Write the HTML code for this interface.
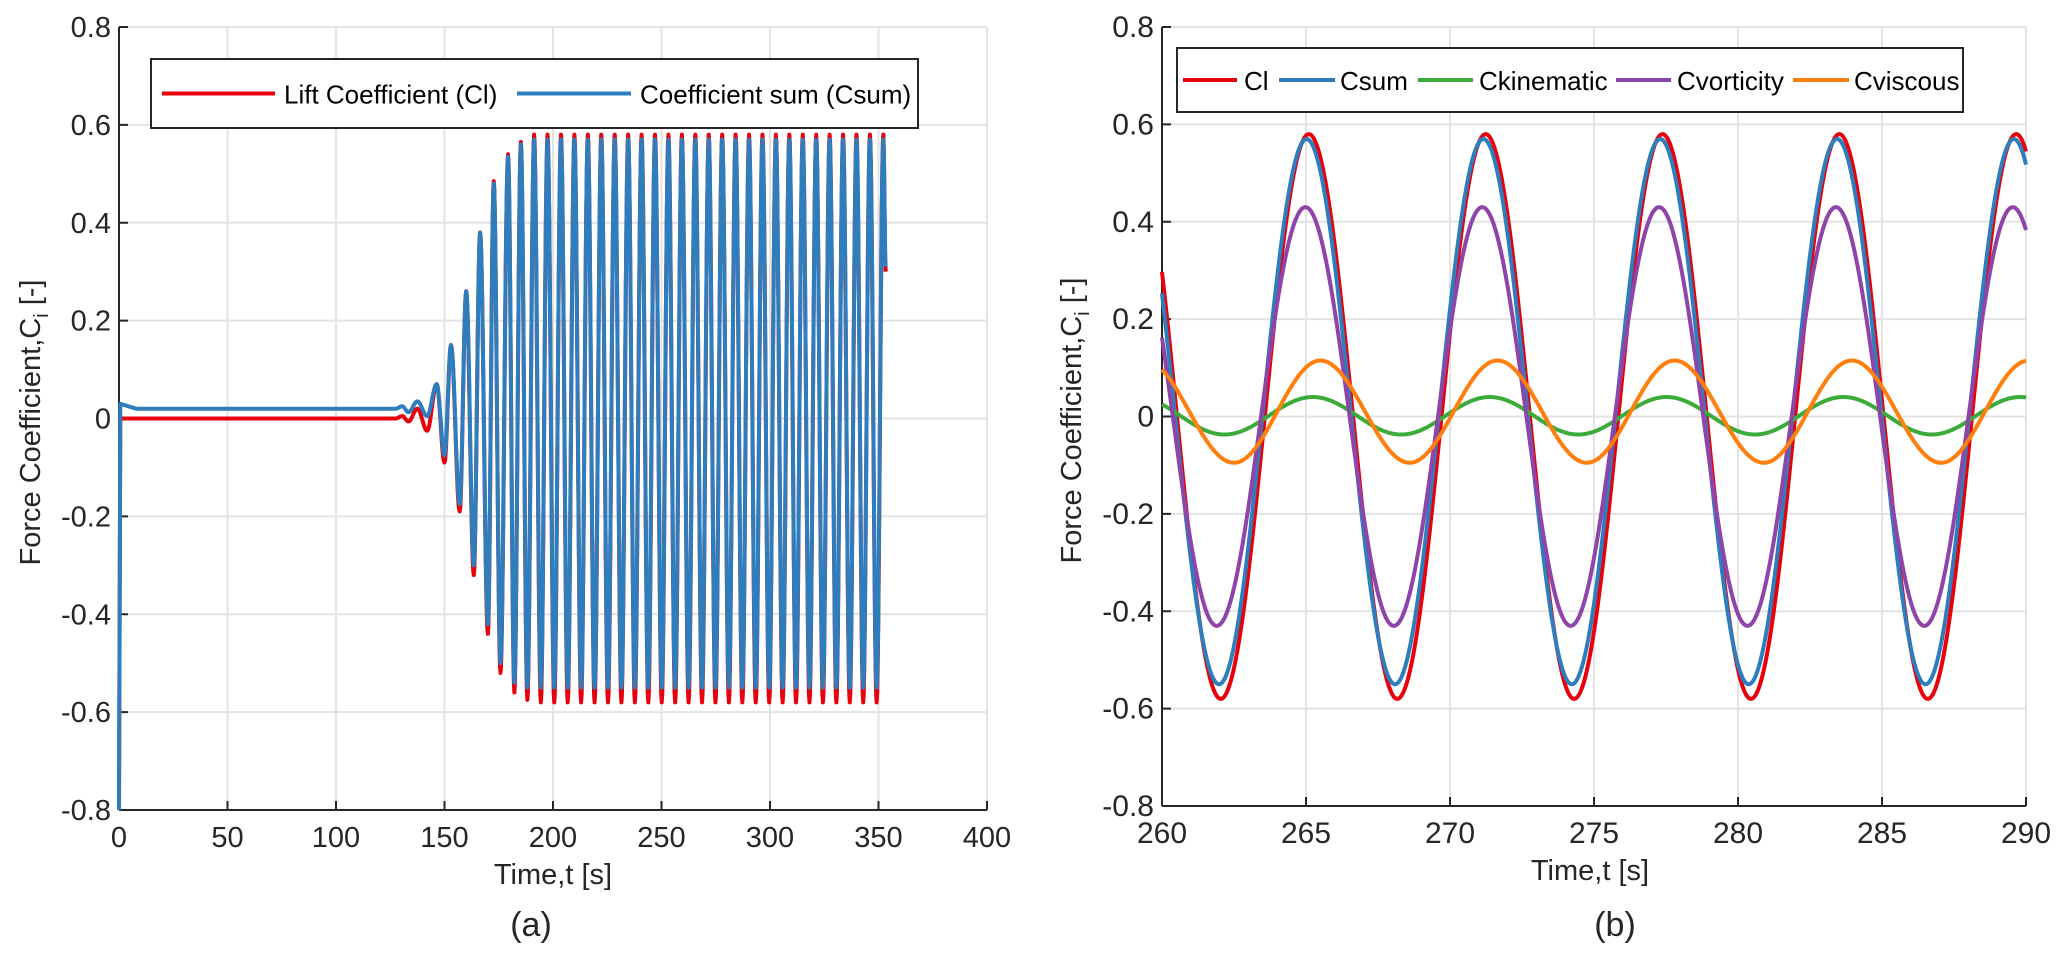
<!DOCTYPE html>
<html><head><meta charset="utf-8">
<style>
html,body{margin:0;padding:0;background:#fff;}
svg{display:block;font-family:"Liberation Sans",Arial,sans-serif;}
</style></head>
<body>
<svg id="fig" width="2067" height="962" viewBox="0 0 2067 962" xmlns="http://www.w3.org/2000/svg">
<g id="panelA"></g>
<g id="panelB"></g>
</svg>
<script>
// ---------- Panel (a) data ----------
const aXTicks = [0,50,100,150,200,250,300,350,400];
const aYTicks = [-0.8,-0.6,-0.4,-0.2,0,0.2,0.4,0.6,0.8];
const yTickLabels = ["-0.8","-0.6","-0.4","-0.2","0","0.2","0.4","0.6","0.8"];
const aGrowthT    = [0,   0.6,  8,    120,  127.5, 130.5, 133.4, 137.5, 142,   146.4, 150,   153,  157,   160,  163.5, 166.4, 170,   172.7, 175.8, 179.3, 182.2, 185.2, 188.2];
const aGrowthCl   = [-0.8,0,    0,    0,    0,     0.005,-0.006, 0.02, -0.025, 0.07, -0.09,  0.15,-0.19,  0.26,-0.32,  0.38, -0.44,  0.485,-0.52,  0.54, -0.56,  0.565,-0.575];
const aGrowthCsum = [-0.8,0.03, 0.02, 0.02, 0.02,  0.025, 0.013, 0.035, 0.005, 0.07, -0.075, 0.15,-0.175, 0.26,-0.30,  0.38, -0.42,  0.48, -0.50,  0.535,-0.54,  0.56, -0.55];
const aSteadyStart = 191.3;
const aSteadyPeriod = 6.19;
const aSteadyCycles = 26;
const aClPeak = 0.58, aClTrough = -0.58;
const aCsumPeak = 0.57, aCsumTrough = -0.55;
const aEndT = 353.3, aEndCl = 0.30, aEndCsum = 0.31;

// ---------- Panel (b) data ----------
const bXTicks = [260,265,270,275,280,285,290];
const bClT    = [259.0,262.04,265.1,268.17,271.24,274.31,277.38,280.45,283.52,286.59,289.66,292.7];
const bClV    = [0.58,-0.58,0.58,-0.58,0.58,-0.58,0.58,-0.58,0.58,-0.58,0.58,-0.58];
const bCsumT  = [258.9,261.98,265.02,268.09,271.16,274.23,277.3,280.37,283.44,286.51,289.58,292.6];
const bCsumV  = [0.57,-0.55,0.57,-0.55,0.57,-0.55,0.57,-0.55,0.57,-0.55,0.57,-0.55];
const bKinT   = [259.1,262.17,265.24,268.31,271.38,274.45,277.52,280.59,283.66,286.73,289.8,292.9];
const bKinV   = [0.04,-0.037,0.04,-0.037,0.04,-0.037,0.04,-0.037,0.04,-0.037,0.04,-0.037];
const bVorT   = [258.85,261.9,264.98,268.05,271.12,274.19,277.26,280.33,283.4,286.47,289.54,292.6];
const bVorV   = [0.43,-0.43,0.43,-0.43,0.43,-0.43,0.43,-0.43,0.43,-0.43,0.43,-0.43];
const bVisT   = [259.4,262.5,265.5,268.6,271.65,274.75,277.8,280.9,283.95,287.05,290.1];
const bVisV   = [0.115,-0.095,0.115,-0.095,0.115,-0.095,0.115,-0.095,0.115,-0.095,0.115];

const NS = "http://www.w3.org/2000/svg";
function mk(tag, attrs, parent){ const e=document.createElementNS(NS,tag); for(const k in attrs) e.setAttribute(k,attrs[k]); parent.appendChild(e); return e; }

function axes(g, X, Y, x0,x1,y0,y1, xTicks, xLabelsStr, xLabelCx, capLabel, capCx, ylabX, tfs){
  const gridG = mk('g',{},g);
  
  
  xTicks.forEach(v=>{ const l=mk('line',{x1:X(v),x2:X(v),y1:y0,y2:y1,stroke:'#e3e3e3','stroke-width':2},gridG);
      });
  aYTicks.forEach(v=>{ const l=mk('line',{x1:x0,x2:x1,y1:Y(v),y2:Y(v),stroke:'#e3e3e3','stroke-width':2},gridG);
      });
  const ax = mk('g',{stroke:'#262626','stroke-width':2},g);
   
  mk('line',{x1:x0,x2:x1,y1:y1,y2:y1},ax);
  mk('line',{x1:x0,x2:x0,y1:y0,y2:y1},ax);
  xTicks.forEach(v=>mk('line',{x1:X(v),x2:X(v),y1:y1,y2:y1-9},ax));
  aYTicks.forEach(v=>mk('line',{x1:x0,x2:x0+9,y1:Y(v),y2:Y(v)},ax));
  xTicks.forEach((v,i)=>{ const t=mk('text',{x:X(v),y:y1+37,'text-anchor':'middle','font-size':tfs,fill:'#262626'},g);
    t.textContent=String(v);   });
  aYTicks.forEach((v,i)=>{ const t=mk('text',{x:x0-8,y:Y(v)+10,'text-anchor':'end','font-size':tfs,fill:'#262626'},g);
    t.textContent=yTickLabels[i];   });
  const xl=mk('text',{x:xLabelCx,y:y1+74,'text-anchor':'middle','font-size':29,fill:'#262626'},g);
  xl.textContent=xLabelsStr;  
  const cy=(y0+y1)/2+4;
  const yl=mk('text',{x:0,y:0,'text-anchor':'middle','font-size':29,fill:'#262626',transform:`translate(${ylabX},${cy}) rotate(-90)`},g);
  yl.innerHTML='Force Coefficient,C<tspan font-size="20" dy="8">i</tspan><tspan dy="-8"> [-]</tspan>';
   
  const cap=mk('text',{x:capCx,y:936,'text-anchor':'middle','font-size':34,fill:'#262626'},g);
  cap.textContent=capLabel;  
}

function traceExtrema(T, V, X, Y, tMin, tMax, step){
  let pts=[];
  for(let i=0;i<T.length-1;i++){
    const ta=T[i], tb=T[i+1];
    for(let t=ta; t<tb; t+=step){
      if(t<tMin||t>tMax) continue;
      const s=(t-ta)/(tb-ta);
      const v=V[i]+(V[i+1]-V[i])*(1-Math.cos(Math.PI*s))/2;
      pts.push(X(t).toFixed(2)+','+Y(v).toFixed(2));
    }
  }
  const tl=Math.min(T[T.length-1],tMax);
  let i=T.length-2; for(let k=0;k<T.length-1;k++){ if(tl>=T[k]&&tl<=T[k+1]) i=k; }
  const s=(tl-T[i])/(T[i+1]-T[i]);
  const v=V[i]+(V[i+1]-V[i])*(1-Math.cos(Math.PI*s))/2;
  pts.push(X(tl).toFixed(2)+','+Y(v).toFixed(2));
  return pts.join(' ');
}

function legend(g, x, y, w, h, items, fs){
  const lg=mk('g',{},g);
   
  mk('rect',{x:x,y:y,width:w,height:h,fill:'#fff',stroke:'#262626','stroke-width':2},lg);
  items.forEach(it=>{
    const e=mk('g',{},lg);
     
    mk('line',{x1:it.l0,x2:it.l1,y1:y+h/2,y2:y+h/2,stroke:it.c,'stroke-width':4},e);
    const t=mk('text',{x:it.tx,y:y+h/2+10,'font-size':fs,fill:'#000'},e); t.textContent=it.name;
  });
}

// ---------- Panel (a) ----------
(function(){
  const g=document.getElementById('panelA');
  const x0=119,x1=987,y0=27,y1=810;
  const X=t=>x0+(t-0)/(400-0)*(x1-x0);
  const Y=v=>y1-(v+0.8)/1.6*(y1-y0);
  axes(g,X,Y,x0,x1,y0,y1,aXTicks,'Time,t [s]',553,'(a)',531,40,29);
  const Tc=aGrowthT.slice(), Vc=aGrowthCl.slice(), Vs=aGrowthCsum.slice();
  const half=aSteadyPeriod/2;
  for(let k=0;k<=aSteadyCycles*2;k++){
    Tc.push(aSteadyStart+k*half);
    Vc.push(k%2===0?aClPeak:aClTrough);
    Vs.push(k%2===0?aCsumPeak:aCsumTrough);
  }
  Tc.push(aEndT); Vc.push(aEndCl); Vs.push(aEndCsum);
  function linTrace(T,V){
    let pts=[];
    for(let i=0;i<T.length-1;i++){
      const ta=T[i],tb=T[i+1];
      const n=Math.max(2,Math.ceil((tb-ta)/0.25));
      const cos = ta>=120;
      for(let j=0;j<n;j++){
        const s=j/n; const f=cos?(1-Math.cos(Math.PI*s))/2:s;
        const v=V[i]+(V[i+1]-V[i])*f;
        pts.push(X(ta+(tb-ta)*s).toFixed(2)+','+Y(v).toFixed(2));
      }
    }
    pts.push(X(T[T.length-1]).toFixed(2)+','+Y(V[V.length-1]).toFixed(2));
    return pts.join(' ');
  }
  const cl=mk('polyline',{points:linTrace(Tc,Vc),fill:'none',stroke:'#e8000b','stroke-width':4,'stroke-linejoin':'round'},g);
   
  const cs=mk('polyline',{points:linTrace(Tc,Vs),fill:'none',stroke:'#2e7dbd','stroke-width':4,'stroke-linejoin':'round'},g);
   
  legend(g,151,59,767,69,[
    {c:'#e8000b',l0:162,l1:275,tx:284,name:'Lift Coefficient (Cl)'},
    {c:'#2e7dbd',l0:517,l1:631,tx:640,name:'Coefficient sum (Csum)'}
  ],26);
})();

// ---------- Panel (b) ----------
(function(){
  const g=document.getElementById('panelB');
  const x0=1162,x1=2026,y0=27,y1=806;
  const X=t=>x0+(t-260)/(290-260)*(x1-x0);
  const Y=v=>y1-(v+0.8)/1.6*(y1-y0);
  axes(g,X,Y,x0,x1,y0,y1,bXTicks,'Time,t [s]',1590,'(b)',1615,1081,30);
  const series=[
    {T:bClT,V:bClV,c:'#e8000b',n:'cl-line'},
    {T:bCsumT,V:bCsumV,c:'#2e7dbd',n:'csum-line'},
    {T:bKinT,V:bKinV,c:'#3cab3a',n:'ckinematic-line'},
    {T:bVorT,V:bVorV,c:'#8e44a8',n:'cvorticity-line'},
    {T:bVisT,V:bVisV,c:'#ff7f0e',n:'cviscous-line'}
  ];
  series.forEach(s=>{
    const p=mk('polyline',{points:traceExtrema(s.T,s.V,X,Y,260,290,0.05),fill:'none',stroke:s.c,'stroke-width':4,'stroke-linejoin':'round'},g);
     
  });
  legend(g,1177,48,786,64,[
    {c:'#e8000b',l0:1183,l1:1237,tx:1244,name:'Cl'},
    {c:'#2e7dbd',l0:1279,l1:1335,tx:1340,name:'Csum'},
    {c:'#3cab3a',l0:1418,l1:1473,tx:1479,name:'Ckinematic'},
    {c:'#8e44a8',l0:1616,l1:1671,tx:1677,name:'Cvorticity'},
    {c:'#ff7f0e',l0:1793,l1:1849,tx:1854,name:'Cviscous'}
  ],26);
})();
</script>
</body></html>
